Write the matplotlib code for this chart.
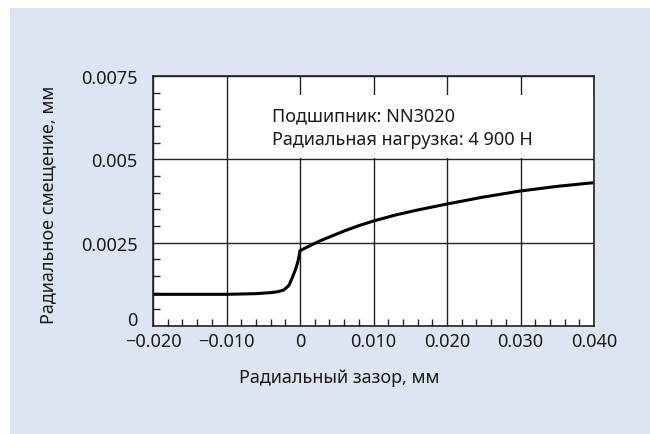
import matplotlib
matplotlib.use("Agg")
import matplotlib.pyplot as plt
import matplotlib.transforms as mtransforms
from matplotlib.patches import Rectangle
from matplotlib.ticker import FixedLocator, MultipleLocator

plt.rcParams["font.family"] = ["Noto Sans", "DejaVu Sans"]

# radial clearance (mm) vs radial displacement (mm), bearing NN3020
clearance = [-0.020, -0.015, -0.010, -0.006, -0.004, -0.003, -0.0022, -0.0015,
             -0.001, -0.0006, -0.0003, -0.0001, 0.0, 0.001, 0.002, 0.003, 0.004,
             0.006, 0.008, 0.010, 0.013, 0.016, 0.020, 0.025, 0.030, 0.035, 0.040]
displacement = [0.00095, 0.00095, 0.00095, 0.00097, 0.00100, 0.00103, 0.00108, 0.00122,
                0.00148, 0.00170, 0.00192, 0.00212, 0.00226, 0.00237, 0.00248, 0.00258, 0.00267,
                0.00285, 0.00301, 0.00315, 0.00333, 0.00348, 0.00366, 0.00387, 0.00405, 0.00419, 0.00430]

x_ticks = [-0.020, -0.010, 0.0, 0.010, 0.020, 0.030, 0.040]
x_labels = ["\u22120.020", "\u22120.010", "0", "0.010", "0.020", "0.030", "0.040"]
y_ticks = [0.0, 0.0025, 0.005, 0.0075]
y_labels = ["0", "0.0025", "0.005", "0.0075"]

note = "Подшипник: NN3020\nРадиальная нагрузка: 4 900 Н"
x_title = "Радиальный зазор, мм"
y_title = "Радиальное смещение, мм"

fig = plt.figure(figsize=(6.5, 4.35), dpi=100)
fig.patch.set_facecolor("white")
# light panel behind everything, leaving a thin white strip top/left
fig.add_artist(Rectangle((10 / 650, 0), 1, 1 - 9 / 435, transform=fig.transFigure,
                         facecolor="#dfe4f2", edgecolor="none", zorder=-10))

ax = fig.add_axes([153 / 650, 1 - 327 / 435, 441 / 650, 250 / 435])
ax.set_facecolor("white")
ax.set_xlim(-0.020, 0.040)
ax.set_ylim(0, 0.0075)

ax.xaxis.set_major_locator(FixedLocator(x_ticks))
ax.set_xticklabels(x_labels)
ax.yaxis.set_major_locator(FixedLocator(y_ticks))
ax.set_yticklabels(y_labels)
ax.xaxis.set_minor_locator(MultipleLocator(0.002))
ax.yaxis.set_minor_locator(MultipleLocator(0.0005))

ax.set_axisbelow(True)
ax.grid(True, which="major", color="#222222", linewidth=1.0)
ax.tick_params(which="major", length=0, labelsize=13, colors="#1a1a1a")
ax.tick_params(axis="y", which="major", pad=11)
ax.tick_params(axis="x", which="major", pad=4)
ax.tick_params(which="minor", direction="in", length=5, width=1.0, color="#222222",
               top=False, right=False)
for s in ax.spines.values():
    s.set_color("#222222")
    s.set_linewidth(1.2)

# the "0" label sits a little above the baseline
lbl0 = ax.get_yticklabels()[0]
lbl0.set_transform(lbl0.get_transform() + mtransforms.ScaledTranslation(0, 8 / 100, fig.dpi_scale_trans))

# white box under the annotation hides the grid
ax.add_patch(Rectangle((0.2, 0.672), 0.8, 0.252, transform=ax.transAxes,
                       facecolor="white", edgecolor="none", zorder=1))
ax.text(0.269, 0.795, note, transform=ax.transAxes, fontsize=13, color="#1a1a1a",
        va="center", ha="left", linespacing=1.45, zorder=3)

ax.plot(clearance, displacement, color="black", linewidth=2.2, zorder=2,
        solid_capstyle="butt")

fig.text(339 / 650, 1 - 378 / 435, x_title, fontsize=13, color="#1a1a1a",
         ha="center", va="center")
fig.text(48 / 650, 1 - 205 / 435, y_title, fontsize=13, color="#1a1a1a",
         ha="center", va="center", rotation=90)

fig.savefig("out.png", dpi=100, facecolor=fig.get_facecolor())
